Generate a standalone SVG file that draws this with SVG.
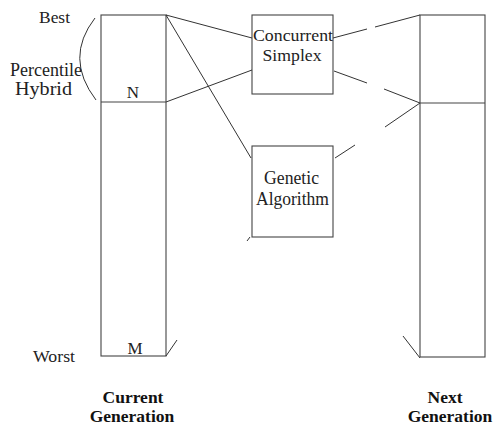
<svg xmlns="http://www.w3.org/2000/svg" width="493" height="426" viewBox="0 0 493 426">
<style>
.box{fill:none;stroke:#444;stroke-width:1.1}
.ln{fill:none;stroke:#333;stroke-width:1}
text{font-family:'Liberation Serif','Times New Roman','DejaVu Serif',serif}
.t{font-size:17px;fill:#222}
.l{font-size:18px;fill:#222}
.b{font-size:17.5px;font-weight:bold;fill:#111}
</style>
<rect width="493" height="426" fill="#fff"/>
<g id="current">
<rect class="box" x="101" y="15" width="65" height="341"/>
<line class="box" x1="101" y1="102" x2="166" y2="102"/>
<text class="t" x="133" y="98" text-anchor="middle">N</text>
<text class="t" x="135" y="354" text-anchor="middle">M</text>
<text class="b" x="133" y="403" text-anchor="middle">Current</text>
<text class="b" x="132" y="422" text-anchor="middle">Generation</text>
</g>
<g id="labels">
<text class="t" x="39" y="23" textLength="31" lengthAdjust="spacingAndGlyphs">Best</text>
<text class="l" x="10" y="76" textLength="72" lengthAdjust="spacingAndGlyphs">Percentile</text>
<text class="l" x="15" y="95" textLength="57" lengthAdjust="spacingAndGlyphs">Hybrid</text>
<text class="t" x="33" y="362" textLength="42" lengthAdjust="spacingAndGlyphs">Worst</text>
<path class="ln" d="M95,18 Q64,58 96,100"/>
</g>
<g id="simplex">
<rect class="box" x="252" y="15" width="81" height="79"/>
<text class="t" x="293" y="41" text-anchor="middle" textLength="80" lengthAdjust="spacingAndGlyphs">Concurrent</text>
<text class="t" x="292" y="61" text-anchor="middle" textLength="59" lengthAdjust="spacingAndGlyphs">Simplex</text>
</g>
<g id="genetic">
<rect class="box" x="252" y="146" width="81" height="91"/>
<text class="l" x="291.5" y="184" text-anchor="middle" textLength="55" lengthAdjust="spacingAndGlyphs">Genetic</text>
<text class="l" x="292.5" y="205" text-anchor="middle" textLength="73" lengthAdjust="spacingAndGlyphs">Algorithm</text>
</g>
<g id="next">
<rect class="box" x="420" y="15" width="65" height="342"/>
<line class="box" x1="420" y1="103" x2="485" y2="103"/>
<text class="b" x="445" y="403" text-anchor="middle">Next</text>
<text class="b" x="450" y="422" text-anchor="middle">Generation</text>
</g>
<g id="connectors">
<line class="ln" x1="166" y1="15" x2="252" y2="38"/>
<line class="ln" x1="166" y1="102" x2="252" y2="70"/>
<line class="ln" x1="166" y1="15" x2="251" y2="158"/>
<line class="ln" x1="333" y1="38" x2="367" y2="29"/>
<line class="ln" x1="375" y1="27" x2="420" y2="15"/>
<line class="ln" x1="334" y1="71" x2="367" y2="83"/>
<line class="ln" x1="384" y1="89" x2="420" y2="103"/>
<line class="ln" x1="335" y1="158" x2="355" y2="145"/>
<line class="ln" x1="385" y1="127" x2="420" y2="103"/>
<line class="ln" x1="247" y1="241" x2="250" y2="237"/>
<line class="ln" x1="166" y1="356" x2="177" y2="340"/>
<line class="ln" x1="420" y1="358" x2="403" y2="336"/>
</g>
</svg>
